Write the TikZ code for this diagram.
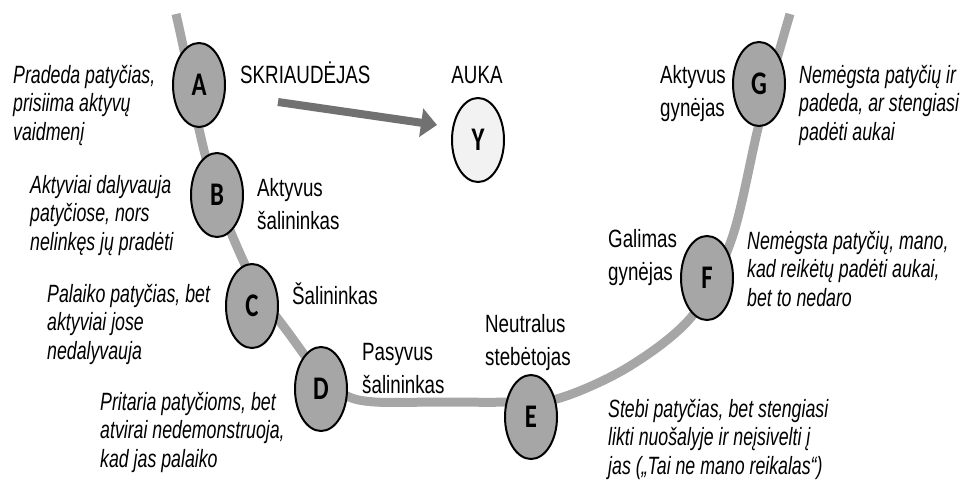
\documentclass[tikz,border=0pt]{standalone}
\usepackage{fontspec}
\setmainfont{Liberation Sans}[FakeStretch=0.75]
\newfontfamily\descfont{Liberation Sans}[FakeStretch=0.71]
\newfontfamily\letterfont{Carlito}[FakeStretch=0.75]
\usetikzlibrary{shapes.geometric,arrows.meta}
\definecolor{track}{HTML}{A6A6A6}
\definecolor{rolefill}{HTML}{A6A6A6}
\definecolor{victimfill}{HTML}{F2F2F2}
\definecolor{arrowgray}{HTML}{717171}

\newcommand{\lft}[1]{\begin{tabular}[t]{@{}l@{}}#1\end{tabular}}

\begin{document}
\begin{tikzpicture}[x=1pt, y=-1pt,
    role/.style={ellipse, draw, line width=2pt, fill=rolefill,
      minimum width=52pt, minimum height=84pt, inner sep=0pt,
      font=\letterfont\bfseries\fontsize{33}{33}\selectfont},
    victim/.style={role, fill=victimfill},
    desc/.style={inner sep=0pt, anchor=base west, font=\descfont\itshape\fontsize{25}{28.5}\selectfont},
    rolename/.style={inner sep=0pt, anchor=base west, font=\fontsize{25}{33}\selectfont}]
    \useasboundingbox (0,0) rectangle (960,479);

    % Track
    \draw[track, line width=9pt] plot[smooth, tension=0.55] coordinates {
      (176,14) (186,60) (197,120) (212,180) (232,235) (258,290) (290,335)
      (318,372) (345,395) (375,402) (440,402) (510,402) (560,398)
      (630,366) (693,315) (732,238) (760,120) (790,14)};

    % Roles
    \node[role] (A) at (199,85) {A};
    \node[role] (B) at (217,195) {B};
    \node[role] (C) at (252,306) {C};
    \node[role] (D) at (321,389) {D};
    \node[role] (E) at (531,417) {E};
    \node[role] (F) at (707,278) {F};
    \node[role] (G) at (759,84) {G};
    \node[victim] (Y) at (478,140) {Y};

    % Arrow
    \coordinate (from) at (278,102);
    \coordinate (tip) at (437,125);
    \draw[arrowgray, line width=8pt, -{Triangle[length=16pt, width=28pt]}] (from) -- (tip);

    % Names
    \node[rolename] (nA) at (240,83) {SKRIAUDĖJAS};
    \node[rolename, anchor=base] (nY) at (477,83) {AUKA};
    \node[rolename] (nB) at (257,196) {\lft{Aktyvus\\šalininkas}};
    \node[rolename] (nC) at (292,304) {Šalininkas};
    \node[rolename] (nD) at (362,360) {\lft{Pasyvus\\šalininkas}};
    \node[rolename] (nE) at (485,332) {\lft{Neutralus\\stebėtojas}};
    \node[rolename] (nF) at (608,247) {\lft{Galimas\\gynėjas}};
    \node[rolename] (nG) at (660,83) {\lft{Aktyvus\\gynėjas}};

    % Descriptions
    \node[desc] (dA) at (13,83) {\lft{Pradeda patyčias,\\prisiima aktyvų\\vaidmenį}};
    \node[desc] (dB) at (30,193) {\lft{Aktyviai dalyvauja\\patyčiose, nors\\nelinkęs jų pradėti}};
    \node[desc] (dC) at (47,302) {\lft{Palaiko patyčias, bet\\aktyviai jose\\nedalyvauja}};
    \node[desc] (dD) at (100,410) {\lft{Pritaria patyčioms, bet\\atvirai nedemonstruoja,\\kad jas palaiko}};
    \node[desc] (dE) at (608,417) {\lft{Stebi patyčias, bet stengiasi\\likti nuošalyje ir neįsivelti į\\jas („Tai ne mano reikalas“)}};
    \node[desc] (dF) at (747,249) {\lft{Nemėgsta patyčių, mano,\\kad reikėtų padėti aukai,\\bet to nedaro}};
    \node[desc] (dG) at (799,83) {\lft{Nemėgsta patyčių ir\\padeda, ar stengiasi\\padėti aukai}};
\end{tikzpicture}
\end{document}
